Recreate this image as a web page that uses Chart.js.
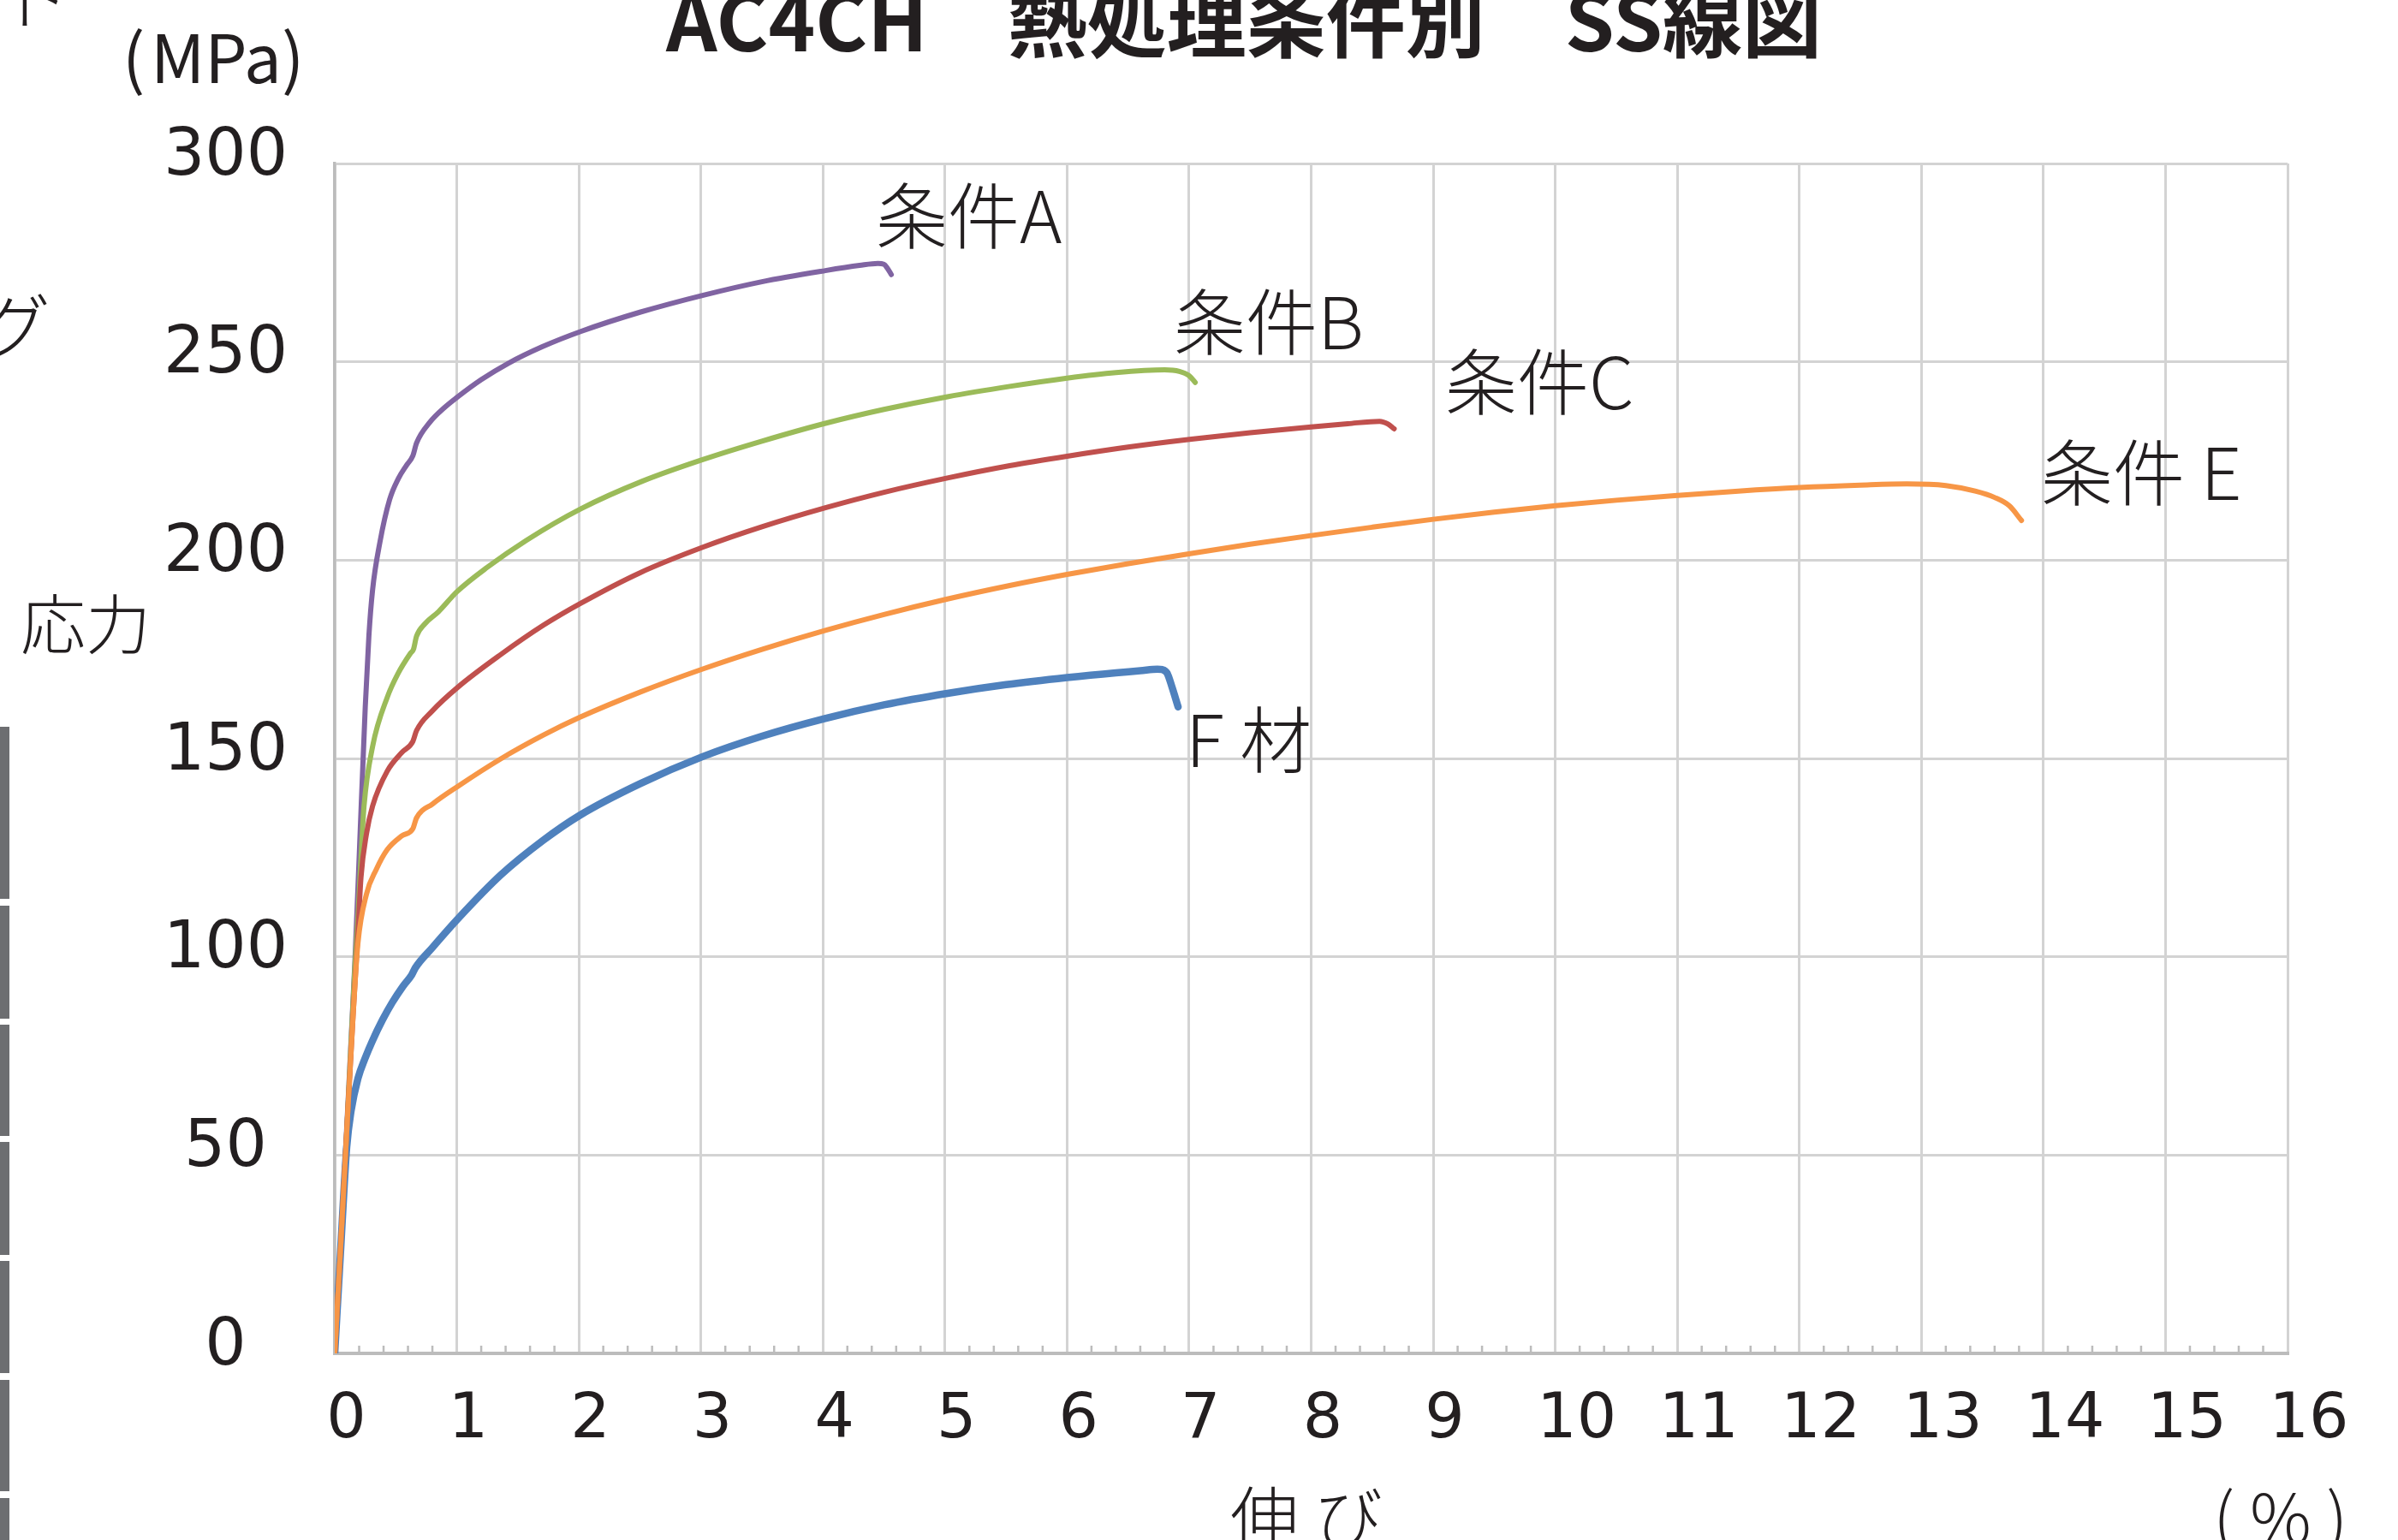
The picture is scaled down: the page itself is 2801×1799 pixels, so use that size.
<!DOCTYPE html>
<html lang="ja">
<head>
<meta charset="utf-8">
<title>AC4CH 熱処理条件別 SS線図</title>
<script src="https://cdn.jsdelivr.net/npm/chart.js@4/dist/chart.umd.min.js"></script>
<style>
  html, body { margin: 0; padding: 0; background: #ffffff; }
  #wrap { position: relative; width: 2801px; height: 1799px; }
</style>
</head>
<body>
<div id="wrap"><canvas id="ss"></canvas></div>
<script>
// ---- 数値データ（伸び % / 応力 MPa） ----
const strainTicks = [0, 1, 2, 3, 4, 5, 6, 7, 8, 9, 10, 11, 12, 13, 14, 15, 16];
const stressTicks = [0, 50, 100, 150, 200, 250, 300];

const seriesNames = ['F 材', '条件A', '条件B', '条件C', '条件 E'];

// F材
const strainF = [0, 0.05, 0.098, 0.133, 0.19, 0.25, 0.31, 0.39, 0.47, 0.56, 0.63, 0.66, 0.8, 1.01, 1.36, 1.71, 2.01, 2.5, 3.01, 3.5, 4.01, 4.5, 5.02, 5.5, 6.0, 6.4, 6.6, 6.74, 6.78, 6.82, 6.86, 6.91];
const stressF = [0, 27, 52, 61, 69.3, 74.5, 78.9, 84, 88.4, 92.6, 95.4, 97.2, 102.3, 109.6, 120.6, 129.4, 135.7, 143.6, 150.4, 155.6, 160, 163.5, 166.4, 168.6, 170.4, 171.6, 172.1, 172.5, 172.4, 171.5, 168, 163];

// 条件A
const strainA = [0, 0.05, 0.1, 0.164, 0.2, 0.25, 0.28, 0.31, 0.37, 0.45, 0.52, 0.59, 0.64, 0.67, 0.78, 0.9, 1.0, 1.2, 1.42, 1.7, 2.02, 2.5, 3.02, 3.5, 4.02, 4.3, 4.45, 4.5, 4.53, 4.56];
const stressA = [0, 28, 58, 98, 125, 163, 181, 192.5, 204.5, 215.3, 220.5, 224, 226.3, 229.5, 234.8, 238.5, 241, 245.5, 249.6, 253.8, 257.7, 262.5, 266.8, 270.2, 273, 274.3, 274.8, 274.6, 273.5, 272];

// 条件B
const strainB = [0, 0.05, 0.1, 0.164, 0.19, 0.215, 0.24, 0.31, 0.43, 0.52, 0.62, 0.645, 0.67, 0.74, 0.85, 1.0, 1.25, 1.57, 2.02, 2.52, 3.02, 3.5, 4.02, 4.5, 5.02, 5.53, 6.0, 6.4, 6.8, 6.92, 7.0, 7.05];
const stressB = [0, 28, 57, 97, 110, 125, 138, 153, 165.4, 171.5, 176.5, 177.5, 180.8, 184, 187, 192, 198.2, 205, 213, 219.9, 225.4, 230, 234.5, 238, 241.2, 243.8, 245.9, 247.3, 248, 247.6, 246.5, 244.8];

// 条件C
const strainC = [0, 0.05, 0.1, 0.15, 0.19, 0.215, 0.26, 0.31, 0.43, 0.55, 0.64, 0.67, 0.8, 1.01, 1.36, 1.71, 2.02, 2.5, 3.02, 3.5, 4.02, 4.5, 5.02, 5.53, 6.0, 6.5, 7.02, 7.5, 8.0, 8.3, 8.56, 8.63, 8.68];
const stressC = [0, 28, 57, 85, 106, 120, 131, 138, 146.8, 151.5, 154.3, 157, 162, 168, 176.2, 183.6, 189.2, 196.8, 203.3, 208.4, 213.2, 217.1, 220.7, 223.8, 226.2, 228.5, 230.5, 232.1, 233.6, 234.4, 235, 234.3, 233.1];

// 条件E
const strainE = [0, 0.05, 0.1, 0.15, 0.19, 0.26, 0.34, 0.43, 0.55, 0.64, 0.67, 0.8, 1.01, 1.36, 1.71, 2.01, 2.5, 3.01, 3.5, 4.02, 4.5, 5.02, 5.53, 6.0, 6.5, 7.02, 7.5, 8.0, 8.5, 9.0, 9.5, 10.0, 10.5, 11.0, 11.5, 12.0, 12.5, 12.88, 13.2, 13.44, 13.6, 13.72, 13.82];
const stressE = [0, 28, 57, 85, 103.4, 115.8, 122, 127, 130.5, 132.3, 135, 138.5, 143, 149.9, 155.9, 160.4, 166.7, 172.5, 177.5, 182.3, 186.3, 190.2, 193.6, 196.4, 199.1, 201.7, 204, 206.2, 208.3, 210.3, 212.1, 213.7, 215.1, 216.3, 217.4, 218.3, 218.9, 219.2, 218.8, 217.4, 215.8, 213.7, 210];

// ---- 描画設定 ----
const INK = '#231f20';
const JP = '"Noto Sans CJK JP", "Noto Sans", sans-serif';
const NUM = '"DejaVu Sans", "Liberation Sans", sans-serif';

const seriesStyle = [
  { color: '#4f81bd', width: 8.5, order: 5 },  // F材
  { color: '#8064a2', width: 6, order: 4 },    // 条件A
  { color: '#9bbb59', width: 6, order: 3 },    // 条件B
  { color: '#c0504d', width: 6, order: 2 },    // 条件C
  { color: '#f79646', width: 6, order: 1 }     // 条件E
];

const xs = [strainF, strainA, strainB, strainC, strainE];
const ys = [stressF, stressA, stressB, stressC, stressE];

const datasets = seriesNames.map((name, k) => ({
  label: name,
  data: xs[k].map((x, i) => ({ x: x, y: ys[k][i] })),
  showLine: true,
  borderColor: seriesStyle[k].color,
  borderWidth: seriesStyle[k].width,
  pointRadius: 0,
  pointHoverRadius: 0,
  fill: false,
  cubicInterpolationMode: 'monotone',
  borderCapStyle: 'round',
  borderJoinStyle: 'round',
  order: seriesStyle[k].order
}));

// 各曲線の名前（データ座標で配置、左端・ベースライン）
const curveTags = [
  { text: '条件A',  at: [4.433, 279.9] },
  { text: '条件B',  at: [6.874, 253.2] },
  { text: '条件C',  at: [9.098, 238.1] },
  { text: '条件 E', at: [13.98, 215.2] },
  { text: 'F 材',   at: [6.973, 147.9] }
];

// x軸の小目盛り（0.2 % 毎、軸線の内側）
const minorTicks = {
  id: 'minorTicks',
  beforeDatasetsDraw(chart) {
    const { ctx, chartArea, scales: { x } } = chart;
    ctx.save();
    ctx.strokeStyle = '#bcbcbc';
    ctx.lineWidth = 2.5;
    for (let i = 0; i <= 80; i++) {
      if (i % 5 === 0) continue;
      const px = x.getPixelForValue(i / 5);
      ctx.beginPath();
      ctx.moveTo(px, chartArea.bottom);
      ctx.lineTo(px, chartArea.bottom - 9);
      ctx.stroke();
    }
    ctx.restore();
  }
};

// 表題・単位・軸名・曲線名などの文字
const annotations = {
  id: 'annotations',
  afterDraw(chart) {
    const { ctx, scales: { x, y } } = chart;
    ctx.save();
    ctx.fillStyle = INK;
    ctx.textBaseline = 'alphabetic';

    // 表題
    ctx.font = 'bold 93px ' + JP;
    ctx.textAlign = 'center';
    ctx.fillText('AC4CH　熱処理条件別　SS線図', 1453, 60);

    // 単位・軸名
    ctx.textAlign = 'left';
    ctx.font = '78px ' + JP;
    ctx.fillText('(', 143, 97);
    ctx.fillText('MPa', 176, 97);
    ctx.fillText(')', 329, 97);
    ctx.font = '300 76px ' + JP;
    ctx.fillText('応力', 24, 758);
    ctx.font = '300 80px ' + JP;
    ctx.fillText('伸 び', 1437, 1803);
    ctx.fillText('( % )', 2585, 1803);

    // 左端の欄外の文字
    ctx.font = '300 84px ' + JP;
    ctx.fillText('ド', 0, 27);
    ctx.fillText('グ', -25, 413);

    // 曲線名
    ctx.font = '300 84px ' + JP;
    curveTags.forEach(t => {
      ctx.fillText(t.text, x.getPixelForValue(t.at[0]), y.getPixelForValue(t.at[1]));
    });

    // 左端の帯
    ctx.fillStyle = '#6d6e71';
    [[849, 1050], [1058, 1190], [1197, 1327], [1334, 1466], [1473, 1604], [1612, 1742], [1750, 1799]]
      .forEach(([a, b]) => ctx.fillRect(0, a, 11, b - a));
    ctx.restore();
  }
};

function build() {
  new Chart(document.getElementById('ss'), {
    type: 'scatter',
    data: { datasets: datasets },
    options: {
      responsive: true,
      maintainAspectRatio: false,
      devicePixelRatio: 1,
      animation: false,
      events: [],
      layout: { padding: { left: 0, top: 191, right: 129, bottom: 0 } },
      plugins: { legend: { display: false }, tooltip: { enabled: false }, title: { display: false } },
      scales: {
        x: {
          type: 'linear',
          min: 0,
          max: 16,
          afterBuildTicks: s => { s.ticks = strainTicks.map(v => ({ value: v })); },
          afterFit: s => { s.height = 218; },
          grid: { color: '#d3d3d3', lineWidth: 3, drawTicks: false },
          border: { color: '#bcbcbc', width: 4 },
          ticks: {
            color: INK,
            font: { family: NUM, size: 73 },
            padding: 35,
            labelOffset: 25,
            maxRotation: 0,
            autoSkip: false,
            callback: v => (v < 10 ? v + ' ' : String(v))
          }
        },
        y: {
          type: 'linear',
          min: 0,
          max: 300,
          afterBuildTicks: s => { s.ticks = stressTicks.map(v => ({ value: v })); },
          afterFit: s => { s.width = 391; },
          grid: { color: '#d3d3d3', lineWidth: 3, drawTicks: false },
          border: { color: '#bcbcbc', width: 3.5 },
          ticks: {
            color: INK,
            font: { family: NUM, size: 76 },
            padding: 55,
            crossAlign: 'center',
            labelOffset: -7,
            autoSkip: false
          }
        }
      }
    },
    plugins: [minorTicks, annotations]
  });
}

const wanted = ['bold 93px "Noto Sans CJK JP"', '300 80px "Noto Sans CJK JP"', '78px "Noto Sans CJK JP"', '76px "DejaVu Sans"'];
Promise.all(wanted.map(f => document.fonts.load(f).catch(() => null))).then(build, build);
</script>
</body>
</html>
